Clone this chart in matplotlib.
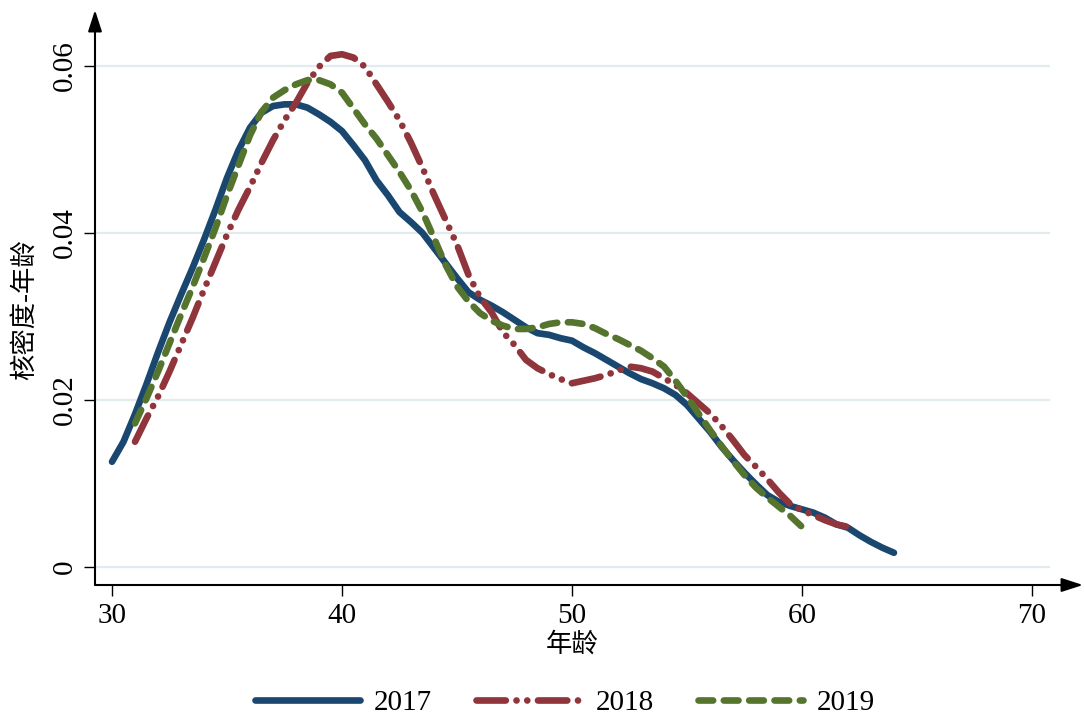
import matplotlib
matplotlib.use("Agg")
import matplotlib.pyplot as plt
import numpy as np

plt.rcParams['font.family'] = ['Liberation Serif', 'Noto Sans CJK SC', 'DejaVu Sans']

# ---------------- data ----------------
age_2017 = [30, 30.5, 31, 31.5, 32, 32.5, 33, 33.5, 34, 34.5, 35, 35.5, 36, 36.5, 37, 37.5,
            38, 38.5, 39, 39.5, 40, 40.5, 41, 41.5, 42, 42.5, 43, 43.5, 44, 44.5, 45, 45.5,
            46, 46.5, 47, 47.5, 48, 48.5, 49, 49.5, 50, 50.5, 51, 51.5, 52, 52.5, 53, 53.5,
            54, 54.5, 55, 55.5, 56, 56.5, 57, 57.5, 58, 58.5, 59, 59.5, 60, 60.5, 61, 61.5,
            62, 62.5, 63, 63.5, 64]
dens_2017 = [0.0126, 0.0150, 0.0183, 0.0219, 0.0257, 0.0293, 0.0326, 0.0358, 0.0392, 0.0428,
             0.0466, 0.0499, 0.0526, 0.0544, 0.0552, 0.0554, 0.0554, 0.0550, 0.0542, 0.0533,
             0.0522, 0.0505, 0.0487, 0.0463, 0.0445, 0.0425, 0.0413, 0.0400, 0.0382, 0.0364,
             0.0346, 0.0329, 0.0320, 0.0313, 0.0305, 0.0296, 0.0287, 0.0280, 0.0278, 0.0274,
             0.0271, 0.0263, 0.0256, 0.0248, 0.0240, 0.0232, 0.0225, 0.0220, 0.0214, 0.0206,
             0.0194, 0.0178, 0.0162, 0.0144, 0.0128, 0.0113, 0.0099, 0.0086, 0.0078, 0.0073,
             0.0069, 0.0065, 0.0059, 0.0051, 0.0047, 0.0038, 0.0030, 0.0023, 0.0017]

age_2018 = [31, 31.5, 32, 32.5, 33, 33.5, 34, 34.5, 35, 35.5, 36, 36.5, 37, 37.5, 38, 38.5,
            39, 39.5, 40, 40.5, 41, 41.5, 42, 42.5, 43, 43.5, 44, 44.5, 45, 45.5, 46, 46.5,
            47, 47.5, 48, 48.5, 49, 49.5, 50, 50.5, 51, 51.5, 52, 52.5, 53, 53.5, 54, 54.5,
            55, 55.5, 56, 56.5, 57, 57.5, 58, 58.5, 59, 59.5, 60, 60.5, 61, 61.5, 62]
dens_2018 = [0.0150, 0.0178, 0.0204, 0.0234, 0.0266, 0.0298, 0.0332, 0.0365, 0.0398, 0.0428,
             0.0455, 0.0484, 0.0511, 0.0535, 0.0556, 0.0580, 0.0599, 0.0612, 0.0614, 0.0610,
             0.0599, 0.0578, 0.0557, 0.0535, 0.0508, 0.0478, 0.0446, 0.0416, 0.0386, 0.0350,
             0.0323, 0.0305, 0.0281, 0.0266, 0.0248, 0.0238, 0.0231, 0.0225, 0.0220, 0.0223,
             0.0226, 0.0230, 0.0235, 0.0240, 0.0238, 0.0234, 0.0226, 0.0218, 0.0208, 0.0196,
             0.0184, 0.0169, 0.0152, 0.0134, 0.0120, 0.0105, 0.0089, 0.0075, 0.0068, 0.0062,
             0.0056, 0.0051, 0.0048]

age_2019 = [31, 31.5, 32, 32.5, 33, 33.5, 34, 34.5, 35, 35.5, 36, 36.5, 37, 37.5, 38, 38.5,
            39, 39.5, 40, 40.5, 41, 41.5, 42, 42.5, 43, 43.5, 44, 44.5, 45, 45.5, 46, 46.5,
            47, 47.5, 48, 48.5, 49, 49.5, 50, 50.5, 51, 51.5, 52, 52.5, 53, 53.5, 54, 54.5,
            55, 55.5, 56, 56.5, 57, 57.5, 58, 58.5, 59, 59.5, 60]
dens_2019 = [0.0172, 0.0202, 0.0234, 0.0268, 0.0302, 0.0335, 0.0370, 0.0406, 0.0445, 0.0481,
             0.0517, 0.0545, 0.0562, 0.0571, 0.0578, 0.0583, 0.0583, 0.0578, 0.0568, 0.0549,
             0.0530, 0.0513, 0.0493, 0.0473, 0.0451, 0.0425, 0.0394, 0.0362, 0.0336, 0.0318,
             0.0304, 0.0295, 0.0289, 0.0285, 0.0285, 0.0287, 0.0291, 0.0293, 0.0293, 0.0291,
             0.0286, 0.0279, 0.0273, 0.0266, 0.0259, 0.0250, 0.0240, 0.0223, 0.0204, 0.0184,
             0.0164, 0.0145, 0.0127, 0.0110, 0.0095, 0.0083, 0.0072, 0.0061, 0.0048]

series_labels = ["2017", "2018", "2019"]
x_ticks = [30, 40, 50, 60, 70]
y_ticks = [0, 0.02, 0.04, 0.06]
y_tick_labels = ["0", "0.02", "0.04", "0.06"]
x_label = "年龄"
y_label = "核密度-年龄"

# ---------------- figure ----------------
W, H = 1084, 716
fig = plt.figure(figsize=(W / 100, H / 100), dpi=100)
ax = fig.add_axes([95 / W, (H - 585) / H, (1083 - 95) / W, (585 - 10) / H])

xlim = (29.26, 72.22)
ylim = (-0.00216, 0.0667)
ax.set_xlim(*xlim)
ax.set_ylim(*ylim)

# grid lines
ax.hlines(y_ticks, xlim[0], 70.8, colors="#e2ecef", lw=1.6, zorder=0)

c17, c18, c19 = "#1a476f", "#90353b", "#55752f"
lw = 4.8
ax.plot(age_2017, dens_2017, color=c17, lw=lw, solid_capstyle="round",
        solid_joinstyle="round", label=series_labels[0], zorder=3)
ax.plot(age_2018, dens_2018, color=c18, lw=lw, dash_capstyle="round",
        dashes=[4.4, 1.6, 0.01, 1.6, 0.01, 1.6], label=series_labels[1], zorder=3)
ax.plot(age_2019, dens_2019, color=c19, lw=lw, dash_capstyle="round",
        dashes=[2.2, 1.6], label=series_labels[2], zorder=3)

# axes with arrows
for s in ax.spines.values():
    s.set_visible(False)
arrow_kw = dict(arrowstyle="-|>,head_length=1.3,head_width=0.42", color="black",
                lw=1.5, shrinkA=0, shrinkB=0)
ax.annotate("", xy=(0, 1), xytext=(0, 0), xycoords="axes fraction",
            textcoords="axes fraction", arrowprops=arrow_kw, annotation_clip=False)
ax.annotate("", xy=(1, 0), xytext=(0, 0), xycoords="axes fraction",
            textcoords="axes fraction", arrowprops=arrow_kw, annotation_clip=False)

ax.set_xticks(x_ticks)
ax.set_xticklabels([str(t) for t in x_ticks])
ax.set_yticks(y_ticks)
ax.set_yticklabels(y_tick_labels, rotation=90, va="center")
ax.tick_params(axis="both", direction="out", length=8, width=1.0, labelsize=21,
               colors="black")
ax.tick_params(axis="x", pad=5)
ax.tick_params(axis="y", pad=4)

ax.set_xlabel(x_label, fontsize=19, labelpad=0)
ax.set_ylabel(y_label, fontsize=19)
ax.xaxis.set_label_coords((572 - 95) / (1083 - 95), -(632 - 585) / (585 - 10))
ax.yaxis.set_label_coords(-(95 - 38) / (1083 - 95), (585 - 310) / (585 - 10))

leg = fig.legend(loc="center", bbox_to_anchor=(565 / W, (H - 703) / H), ncol=3,
                 frameon=False, fontsize=21, handlelength=3.6, handletextpad=0.5,
                 columnspacing=1.5)

fig.savefig("out.png", dpi=100, facecolor="white")
